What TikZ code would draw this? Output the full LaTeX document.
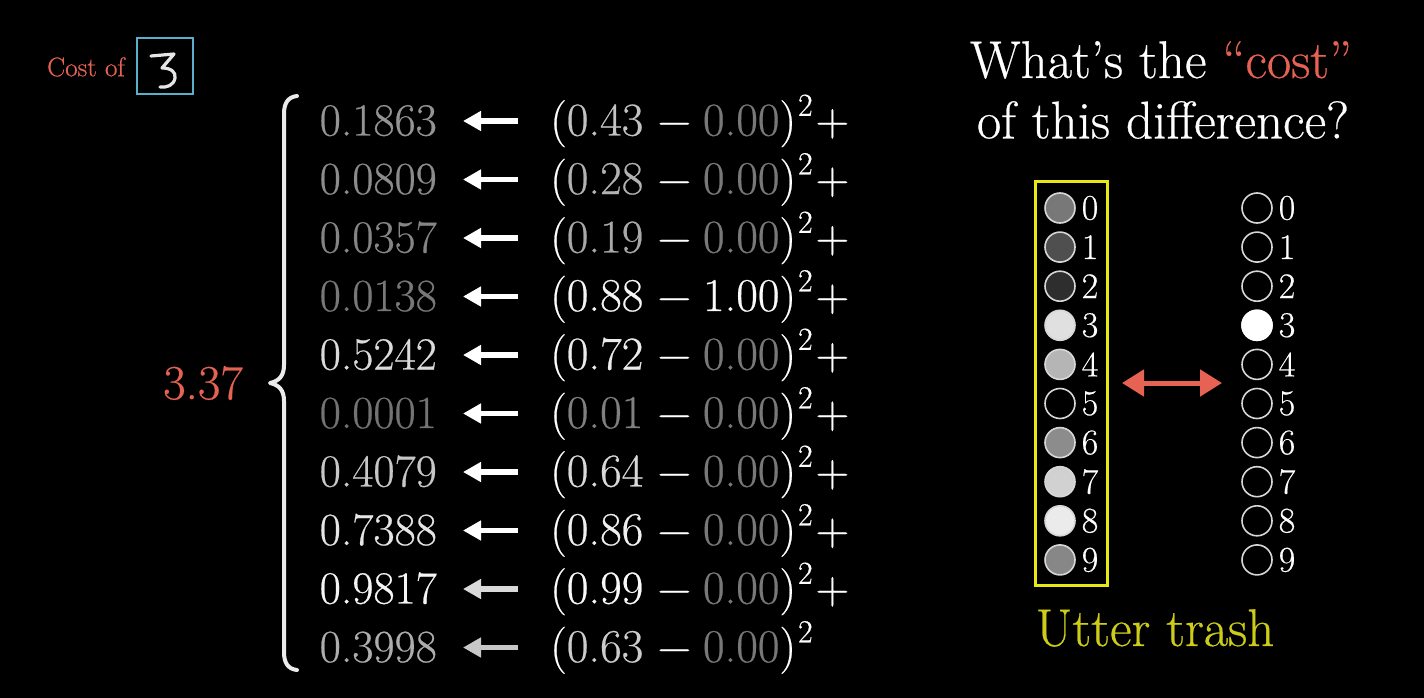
\documentclass[tikz,border=0pt]{standalone}
\usepackage{fontspec}
\setmainfont{lmroman17-regular.otf}[FakeBold=0.5]
\usetikzlibrary{arrows.meta}
\definecolor{costred}{RGB}{230,98,82}
\definecolor{boxcyan}{RGB}{90,175,205}
\definecolor{yboxc}{RGB}{232,232,20}
\definecolor{ytext}{RGB}{205,205,25}
\definecolor{ring}{RGB}{215,215,215}
\begin{document}
\begin{tikzpicture}[x=1pt,y=-1pt,
  numtxt/.style={font=\fontsize{46}{52}\selectfont, inner sep=0pt, text height=39pt, text depth=10pt, anchor=east},
  exptxt/.style={font=\fontsize{47}{52}\selectfont, inner sep=0pt, text height=39pt, text depth=10pt, anchor=west, text=white},
  warrow/.style={line width=5.5pt, -{Triangle[length=18pt,width=19pt]}, shorten >=26pt, shorten <=32pt},
  circ/.style={circle, draw=ring, line width=1.6pt, minimum size=30pt, inner sep=0pt},
  dlabel/.style={font=\fontsize{36}{40}\selectfont, text=white, inner sep=0pt},
  redarrow/.style={line width=5pt, costred, {Triangle[length=22pt,width=26pt]}-{Triangle[length=22pt,width=26pt]}},
  bracestyle/.style={line width=4pt, white!92!black, line cap=round, line join=round}
]
\fill[black] (0,0) rectangle (1424,698);
\useasboundingbox (0,0) rectangle (1424,698);

% Cost of [3]
\node[text=costred, font=\fontsize{27}{30}\selectfont, inner sep=0pt] (costof) at (86,67) {Cost of};
\node[draw=boxcyan, line width=2.5pt, minimum size=56pt, inner sep=0pt] (digitbox) at (165,66) {};
\draw[white!90!black, line width=3.2pt, line cap=round, line join=round]
  (151,56) -- (174,54) -- (162,68) .. controls (171,68) and (176,72) .. (175,78)
  .. controls (174,85) and (167,88) .. (160,87);

% total
\node[text=costred, font=\fontsize{49}{54}\selectfont, inner sep=0pt] (total) at (203,383) {3.37};

% brace
\draw[bracestyle] (297,96) .. controls (288,97) and (284,103) .. (284,114) -- (284,365)
  .. controls (284,376) and (279,381) .. (270,383)
  .. controls (279,385) and (284,390) .. (284,401) -- (284,652)
  .. controls (284,663) and (288,669) .. (297,670);

% rows
\foreach \i/\v/\vc/\p/\pc/\t/\tc/\pl/\ac in {
  1/0.1863/58/0.43/76/0.00/47/+/100,
  2/0.0809/55/0.28/70/0.00/47/+/100,
  3/0.0357/52/0.19/66/0.00/47/+/100,
  4/0.0138/47/0.88/96/1.00/98/+/100,
  5/0.5242/86/0.72/92/0.00/47/+/100,
  6/0.0001/45/0.01/50/0.00/47/+/100,
  7/0.4079/78/0.64/85/0.00/47/+/100,
  8/0.7388/90/0.86/94/0.00/47/+/100,
  9/0.9817/96/0.99/98/0.00/47/+/85,
  10/0.3998/68/0.63/80/0.00/47//78}
{
  \pgfmathsetmacro\yy{121+58.5*(\i-1)}
  \node[numtxt, text=white!\vc!black] (n\i) at (437,\yy) {\v};
  \node[exptxt] (e\i) at (550,\yy) {(\textcolor{white!\pc!black}{\p}\hspace{.3em}−\hspace{.25em}\textcolor{white!\tc!black}{\t})\hspace{.04em}\raisebox{.42em}{\fontsize{32}{32}\selectfont 2}\hspace{.06em}\pl};
  \draw[warrow, white!\ac!black] (e\i) -- (n\i);
}

% title
\node[text=white, font=\fontsize{53}{60}\selectfont, inner sep=0pt] (title1) at (1161,60) {What’s the \textcolor{costred}{“cost”}};
\node[text=white, font=\fontsize{53}{60}\selectfont, inner sep=0pt] (title2) at (1163,120) {of this difference?};

% output layers
\node[draw=yboxc, line width=3pt, minimum width=72pt, minimum height=404pt, inner sep=0pt] (ybox) at (1071,383) {};
\foreach \j/\f in {0/47,1/31,2/18,3/88,4/71,5/0,6/55,7/82,8/92,9/53}{
  \pgfmathsetmacro\yc{208+39.1*\j}
  \node[circ, fill=white!\f!black] (L\j) at (1060,\yc) {};
  \node[dlabel] (LL\j) at (1090,\yc) {\j};
  \node[circ, fill=black] (R\j) at (1257,\yc) {};
  \node[dlabel] (RL\j) at (1287,\yc) {\j};
}
\node[circ, fill=white, draw=white] (R3b) at (R3) {};

\coordinate (da1) at (1122,383);
\coordinate (da2) at (1222,383);
\draw[redarrow] (da1) -- (da2);

\node[text=ytext, font=\fontsize{53}{60}\selectfont, inner sep=0pt] (trash) at (1155,628) {Utter trash};
\end{tikzpicture}
\end{document}
